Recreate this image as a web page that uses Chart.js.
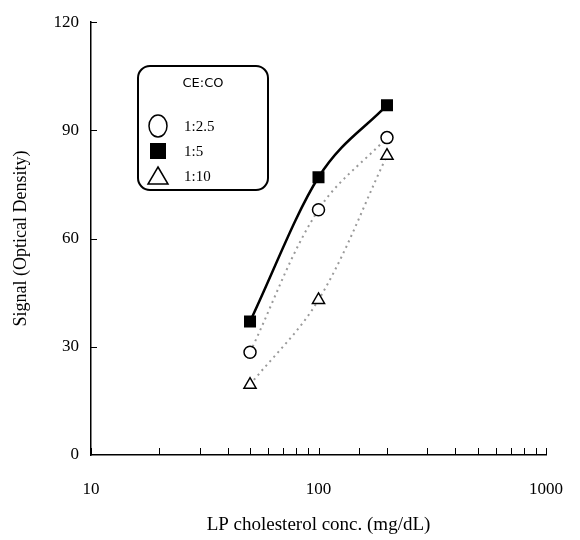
<!DOCTYPE html>
<html>
<head>
<meta charset="utf-8">
<script src="https://cdn.jsdelivr.net/npm/chart.js@4/dist/chart.umd.min.js"></script>
<style>
  html, body { margin: 0; padding: 0; background: #fff; }
  #wrap { width: 580px; height: 540px; }
</style>
</head>
<body>
<div id="wrap"><canvas id="SignalChart"></canvas></div>
<script>
// values
var concentrations = [50, 100, 200];
var ratio25 = [28.5, 68, 88];   // open circles
var ratio5 = [37, 77, 97];      // filled squares
var ratio10 = [19.5, 43, 83];   // open triangles
var yTicks = [0, 30, 60, 90, 120];
var xLabels = [10, 100, 1000];
var legendTitle = 'CE:CO';
var legendLabels = ['1:2.5', '1:5', '1:10'];

function toPoints(values) {
    return concentrations.map((c, i) => ({ x: c, y: values[i] }));
}

var serif = '"Liberation Serif", "DejaVu Serif", serif';

// small inward tick marks + the rounded legend box
var innerTicks = {
    id: 'innerTicks',
    afterDraw: function (chart) {
        var ctx = chart.ctx;
        var xs = chart.scales.x, ys = chart.scales.y;
        var area = chart.chartArea;
        ctx.save();
        ctx.strokeStyle = '#000';
        ctx.lineWidth = 1;
        xs.ticks.forEach(function (t) {
            var px = Math.round(xs.getPixelForValue(t.value)) + 0.5;
            ctx.beginPath();
            ctx.moveTo(px, area.bottom);
            ctx.lineTo(px, area.bottom - 7);
            ctx.stroke();
        });
        yTicks.forEach(function (v) {
            if (v === 0) return;
            var py = Math.round(ys.getPixelForValue(v)) + 0.5;
            ctx.beginPath();
            ctx.moveTo(area.left, py);
            ctx.lineTo(area.left + 6, py);
            ctx.stroke();
        });

        // legend
        var bx = 138, by = 66, bw = 130, bh = 124, r = 12;
        ctx.lineWidth = 2;
        ctx.beginPath();
        ctx.roundRect(bx, by, bw, bh, r);
        ctx.fillStyle = '#fff';
        ctx.fill();
        ctx.stroke();

        ctx.fillStyle = '#000';
        ctx.font = '13px "DejaVu Sans", sans-serif';
        ctx.textAlign = 'center';
        ctx.textBaseline = 'middle';
        ctx.fillText(legendTitle, bx + bw / 2, by + 18);

        var rows = [by + 60, by + 85, by + 110];
        var mx = 158;
        ctx.lineWidth = 1.5;
        // circle
        ctx.beginPath();
        ctx.ellipse(mx, rows[0], 9, 11, 0, 0, Math.PI * 2);
        ctx.stroke();
        // square
        ctx.fillRect(mx - 8, rows[1] - 8, 16, 16);
        // triangle
        ctx.beginPath();
        ctx.moveTo(mx, rows[2] - 9);
        ctx.lineTo(mx + 10, rows[2] + 8);
        ctx.lineTo(mx - 10, rows[2] + 8);
        ctx.closePath();
        ctx.stroke();

        ctx.font = '15px ' + serif;
        ctx.textAlign = 'left';
        legendLabels.forEach(function (lbl, i) {
            ctx.fillText(lbl, 184, rows[i] + 1);
        });
        ctx.restore();
    }
};

var ctx = document.getElementById('SignalChart');

var data = {
    datasets: [{
        label: '1:2.5',
        data: toPoints(ratio25),
        borderColor: '#9a9a9a',
        borderWidth: 2,
        borderDash: [2, 4],
        tension: 0.35,
        pointStyle: 'circle',
        pointRadius: 6,
        pointBackgroundColor: '#fff',
        pointBorderColor: '#000',
        pointBorderWidth: 1.5
    }, {
        label: '1:10',
        data: toPoints(ratio10),
        borderColor: '#9a9a9a',
        borderWidth: 2,
        borderDash: [2, 4],
        tension: 0.35,
        pointStyle: 'triangle',
        pointRadius: 7,
        pointBackgroundColor: '#fff',
        pointBorderColor: '#000',
        pointBorderWidth: 1.5
    }, {
        label: '1:5',
        data: toPoints(ratio5),
        borderColor: '#000',
        borderWidth: 2.5,
        cubicInterpolationMode: 'monotone',
        pointStyle: 'rect',
        pointRadius: 8.5,
        pointBackgroundColor: '#000',
        pointBorderColor: '#000',
        pointBorderWidth: 0
    }]
};

const config = {
    type: 'line',
    data: data,
    options: {
        responsive: true,
        maintainAspectRatio: false,
        animation: false,
        layout: { padding: { top: 20, right: 34, left: 0, bottom: 0 } },
        plugins: {
            legend: { display: false },
            tooltip: { enabled: false }
        },
        scales: {
            x: {
                type: 'logarithmic',
                min: 10,
                max: 1000,
                grid: { display: false, drawTicks: false },
                border: { display: true, color: '#000', width: 1.5 },
                ticks: {
                    autoSkip: false,
                    maxRotation: 0,
                    padding: 24,
                    color: '#000',
                    font: { family: serif, size: 17 },
                    callback: function (v) {
                        return xLabels.indexOf(v) >= 0 ? String(v) : '';
                    }
                },
                title: {
                    display: true,
                    text: 'LP cholesterol conc. (mg/dL)',
                    color: '#000',
                    font: { family: serif, size: 19 },
                    padding: { top: 14 }
                },
                afterFit: function (scale) {
                    scale.height = 85;
                    scale.paddingRight = 0;
                    scale.paddingLeft = 0;
                }
            },
            y: {
                min: 0,
                max: 120,
                grid: { display: false, drawTicks: false },
                border: { display: true, color: '#000', width: 1.5 },
                ticks: {
                    stepSize: 30,
                    padding: 12,
                    color: '#000',
                    font: { family: serif, size: 17 }
                },
                title: {
                    display: true,
                    text: 'Signal (Optical Density)',
                    color: '#000',
                    font: { family: serif, size: 18 },
                    padding: { top: 10, bottom: 4 }
                },
                afterFit: function (scale) { scale.width = 91; }
            }
        }
    },
    plugins: [innerTicks]
};

var myChart = new Chart(ctx, config);
</script>
</body>
</html>
